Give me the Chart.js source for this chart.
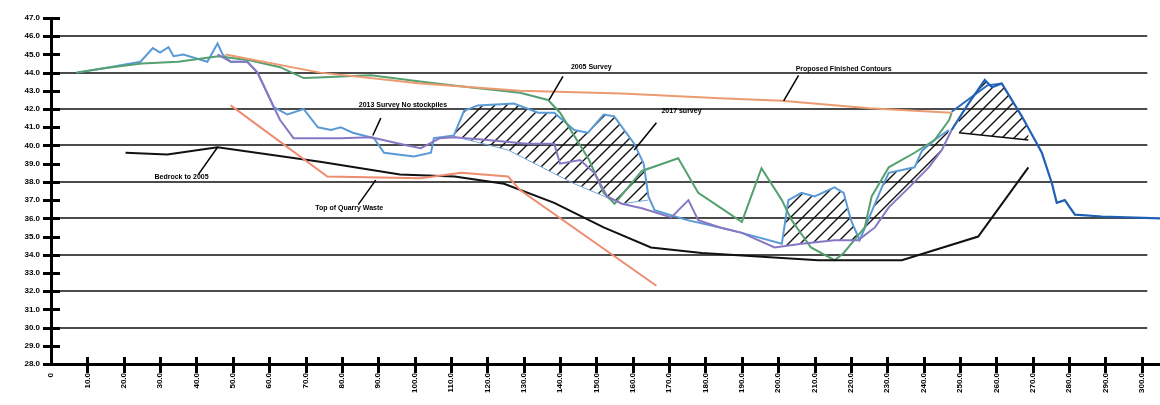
<!DOCTYPE html>
<html>
<head>
<meta charset="utf-8">
<script src="https://cdn.jsdelivr.net/npm/chart.js@4.4.1/dist/chart.umd.min.js"></script>
<style>
  html, body { margin: 0; padding: 0; background: #fff; }
  #wrap { width: 1160px; height: 405px; }
</style>
</head>
<body>
<div id="wrap"><canvas id="perfil"></canvas></div>
<script>
// chainage (m) / level (m)
const survey2005X = [7, 15, 25, 35, 46, 54, 63, 69.5, 75, 88, 102, 115, 129, 136.7, 140, 144, 148, 152, 155, 162.5, 172.5, 178, 184, 190, 195.4, 201, 203.7, 209, 215.5, 218, 223.8, 225.7, 230.4, 237.5, 243, 247, 247.7];
const survey2005Y = [44.0, 44.25, 44.5, 44.6, 44.9, 44.7, 44.3, 43.7, 43.75, 43.85, 43.5, 43.2, 42.9, 42.5, 41.8, 40.5, 39.2, 37.4, 36.8, 38.6, 39.3, 37.4, 36.6, 35.8, 38.75, 37.0, 35.9, 34.4, 33.7, 34.1, 35.5, 37.2, 38.8, 39.6, 40.3, 41.4, 41.8];

const survey2017X = [7, 15, 24.6, 28, 30, 32.3, 33.7, 36.4, 43, 45.8, 47.2, 49.4, 54, 56.8, 61.3, 65, 69.5, 73.4, 77, 79.7, 83, 88.8, 91.6, 99.8, 104.5, 105.3, 110.8, 113.6, 117.4, 127.3, 134, 138.4, 143.9, 147.7, 152, 154.9, 160.4, 163, 164.3, 166, 175, 184, 190, 201, 202.8, 206.4, 210, 215.5, 218, 220, 222.4, 228.5, 230.4, 237.5, 239.5, 243, 246.9];
const survey2017Y = [44.0, 44.25, 44.6, 45.35, 45.1, 45.4, 44.9, 45.0, 44.6, 45.6, 45.0, 44.6, 44.6, 44.0, 42.1, 41.7, 42.0, 41.0, 40.85, 41.0, 40.7, 40.4, 39.6, 39.4, 39.6, 40.4, 40.55, 41.9, 42.2, 42.3, 41.8, 41.8, 40.85, 40.7, 41.7, 41.6, 40.1, 39.0, 37.2, 36.45, 35.9, 35.5, 35.2, 34.6, 37.0, 37.4, 37.2, 37.7, 37.4, 35.9, 34.8, 37.7, 38.5, 38.8, 39.7, 40.3, 40.85];

const survey2013X = [45.8, 49.4, 54, 56.8, 61.3, 63, 66.7, 74, 79.7, 88, 98, 101.7, 107, 110.8, 120, 131, 138.4, 140, 145.5, 149.4, 153, 157, 162.5, 170.6, 175.3, 178, 184, 190, 199, 206.4, 215.5, 222, 226.6, 230.4, 236, 241.4, 245, 247.7];
const survey2013Y = [45.0, 44.6, 44.6, 44.0, 42.1, 41.4, 40.4, 40.4, 40.4, 40.45, 40.0, 39.85, 40.4, 40.45, 40.3, 40.1, 40.1, 39.0, 39.2, 38.5, 37.2, 36.8, 36.55, 36.05, 37.0, 35.9, 35.5, 35.2, 34.4, 34.6, 34.8, 34.8, 35.5, 36.6, 37.7, 38.8, 39.75, 40.85];

const eastX = [247.7, 252, 256.8, 258.8, 261.5, 267, 270.6, 272.5, 275.3, 276.6, 278.8, 281.6, 289, 305];
const eastY = [40.85, 42.2, 43.6, 43.2, 43.4, 41.6, 40.3, 39.6, 37.9, 36.85, 37.0, 36.2, 36.1, 36.0];
const eastTopX = [247.7, 257.5, 261.5];
const eastTopY = [41.85, 43.3, 43.4];

const proposedX = [48, 74, 101.7, 129, 157, 184, 201, 225, 247.7];
const proposedY = [45.0, 44.0, 43.4, 43.0, 42.85, 42.6, 42.45, 42.05, 41.8];

const quarryX = [49.4, 76, 101.7, 112.8, 125.7, 129, 166.5];
const quarryY = [42.2, 38.3, 38.2, 38.5, 38.3, 37.55, 32.3];

const bedrockX = [20.5, 32, 45.8, 74, 96, 111, 124.6, 138.4, 152, 165, 179, 211, 234, 255, 268.8];
const bedrockY = [39.6, 39.5, 39.9, 39.1, 38.4, 38.3, 37.9, 36.85, 35.5, 34.4, 34.1, 33.7, 33.7, 35.0, 38.8];

const capX = [249.7, 268.8];
const capY = [40.7, 40.3];

// lower edge of the first hatched wedge
const wedgeX = [110.8, 125.7, 143.9, 157, 164.3];
const wedgeY = [40.5, 39.75, 37.9, 36.8, 37.0];

const gridLevels = [30, 32, 34, 36, 38, 40, 42, 44, 46];
const gridEnd = 301.5;

const notes = [
  { text: 'Bedrock to 2005', x: 35.9, y: 38.15, from: [40.5, 38.4], to: [45.8, 39.9] },
  { text: 'Top of Quarry Waste', x: 82, y: 36.4, from: [84.5, 36.75], to: [89.3, 38.1] },
  { text: '2013 Survey No stockpiles', x: 96.8, y: 42.1, from: [90.7, 41.5], to: [88.5, 40.55] },
  { text: '2005 Survey', x: 148.6, y: 44.15, from: [140.8, 43.8], to: [137, 42.5] },
  { text: '2017 survey', x: 173.4, y: 41.75, from: [166.5, 41.25], to: [160.4, 39.75] },
  { text: 'Proposed Finished Contours', x: 218, y: 44.05, from: [205.6, 43.85], to: [201.5, 42.45] }
];

const pts = (xs, ys) => xs.map((x, i) => ({ x: x, y: ys[i] }));
const part = (xs, ys, a, b) => pts(xs, ys).filter(p => p.x >= a && p.x <= b);

function hatch() {
  const c = document.createElement('canvas');
  c.width = 12; c.height = 12;
  const g = c.getContext('2d');
  g.strokeStyle = '#111';
  g.lineWidth = 1.4;
  g.beginPath();
  g.moveTo(-1, 13); g.lineTo(13, -1);
  g.moveTo(-3, 3); g.lineTo(3, -3);
  g.moveTo(9, 15); g.lineTo(15, 9);
  g.stroke();
  return g.createPattern(c, 'repeat');
}
const stripes = hatch();

function linha(label, data, color, width) {
  return { label: label, data: data, borderColor: color, borderWidth: width || 2, showLine: true,
    pointRadius: 0, tension: 0, fill: false, order: 1 };
}
function par(top, bottom) {
  return [
    { data: top, borderWidth: 0, borderColor: 'transparent', backgroundColor: stripes, pointRadius: 0, showLine: true, fill: '+1', order: 5 },
    { data: bottom, borderWidth: 0, borderColor: 'transparent', pointRadius: 0, showLine: true, fill: false, order: 5 }
  ];
}

const datasets = [].concat(
  par(part(survey2017X, survey2017Y, 110, 165), pts(wedgeX, wedgeY)),
  par(part(survey2017X, survey2017Y, 201, 222.5), part(survey2013X, survey2013Y, 199, 222)),
  par(part(survey2017X, survey2017Y, 222.4, 247), part(survey2013X, survey2013Y, 222, 248)),
  par(part(eastX, eastY, 247, 271), pts(capX, capY)),
  [
    linha('Proposed Finished Contours', pts(proposedX, proposedY), '#ec9a70'),
    linha('Top of Quarry Waste', pts(quarryX, quarryY), '#ee8c70'),
    linha('Bedrock to 2005', pts(bedrockX, bedrockY), '#111111'),
    linha('cap', pts(capX, capY), '#111111', 1.5),
    linha('2013 Survey', pts(survey2013X, survey2013Y), '#8878c4'),
    linha('2005 Survey', pts(survey2005X, survey2005Y), '#55a070'),
    linha('2017 survey', pts(survey2017X, survey2017Y), '#5a9ad6'),
    linha('wedge', pts(wedgeX, wedgeY), '#7aa6d8', 1),
    linha('2017 east', pts(eastX, eastY), '#1f5fb4', 2.2),
    linha('2017 east top', pts(eastTopX, eastTopY), '#2a6cc0', 2)
  ]
);

// horizontal rules that stop short of the right edge, like the drawing
const rules = {
  id: 'rules',
  beforeDatasetsDraw(chart) {
    const ctx = chart.ctx;
    const xs = chart.scales.x, ys = chart.scales.y;
    const x0 = chart.chartArea.left, x1 = xs.getPixelForValue(gridEnd);
    ctx.save();
    ctx.strokeStyle = '#111';
    ctx.lineWidth = 1.6;
    ctx.beginPath();
    gridLevels.forEach(v => {
      const py = Math.round(ys.getPixelForValue(v));
      ctx.moveTo(x0, py); ctx.lineTo(x1, py);
    });
    ctx.stroke();
    ctx.restore();
  }
};

const crossTicks = {
  id: 'crossTicks',
  afterDraw(chart) {
    const ctx = chart.ctx;
    const xs = chart.scales.x, ys = chart.scales.y;
    const a = chart.chartArea;
    ctx.save();
    ctx.strokeStyle = '#000';
    ctx.lineWidth = 3;
    ctx.beginPath();
    ys.ticks.forEach(t => {
      const py = Math.round(ys.getPixelForValue(t.value)) + 0.5;
      ctx.moveTo(a.left - 8, py); ctx.lineTo(a.left + 9, py);
    });
    xs.ticks.forEach(t => {
      if (t.value === 0) return;
      const px = Math.round(xs.getPixelForValue(t.value)) + 0.5;
      ctx.moveTo(px, a.bottom - 7); ctx.lineTo(px, a.bottom + 9);
    });
    ctx.stroke();

    ctx.lineWidth = 1.5;
    ctx.fillStyle = '#000';
    ctx.font = 'bold 7px "Liberation Sans Narrow", "Liberation Sans", sans-serif';
    ctx.textAlign = 'center';
    ctx.textBaseline = 'bottom';
    notes.forEach(n => {
      ctx.beginPath();
      ctx.moveTo(xs.getPixelForValue(n.from[0]), ys.getPixelForValue(n.from[1]));
      ctx.lineTo(xs.getPixelForValue(n.to[0]), ys.getPixelForValue(n.to[1]));
      ctx.stroke();
      ctx.fillText(n.text, xs.getPixelForValue(n.x), ys.getPixelForValue(n.y) + 1);
    });
    ctx.restore();
  }
};

Chart.defaults.font.family = '"Liberation Sans Narrow", "Liberation Sans", sans-serif';
Chart.defaults.color = '#000';

new Chart(document.getElementById('perfil'), {
  type: 'scatter',
  data: { datasets: datasets },
  options: {
    responsive: true,
    maintainAspectRatio: false,
    animation: false,
    layout: { padding: { top: 18, right: 0, left: 0, bottom: 0 } },
    plugins: { legend: { display: false }, tooltip: { enabled: false } },
    scales: {
      x: {
        type: 'linear', min: 0, max: 305,
        border: { color: '#000', width: 3 },
        grid: { drawOnChartArea: false, drawTicks: true, tickLength: 9, tickColor: 'transparent' },
        ticks: {
          stepSize: 10, includeBounds: false, autoSkip: false,
          minRotation: 90, maxRotation: 90, padding: 0,
          font: { size: 8, weight: 'bold' },
          callback: v => v === 0 ? '0' : v.toFixed(1)
        },
        afterFit: s => { s.height = 41; }
      },
      y: {
        min: 28, max: 47,
        border: { color: '#000', width: 3 },
        grid: { drawOnChartArea: false, drawTicks: true, tickLength: 9, tickColor: 'transparent' },
        ticks: {
          stepSize: 1, autoSkip: false, padding: 2,
          font: { size: 8, weight: 'bold' },
          callback: v => v.toFixed(1)
        },
        afterFit: s => { s.width = 51; }
      }
    }
  },
  plugins: [rules, crossTicks]
});
</script>
</body>
</html>
